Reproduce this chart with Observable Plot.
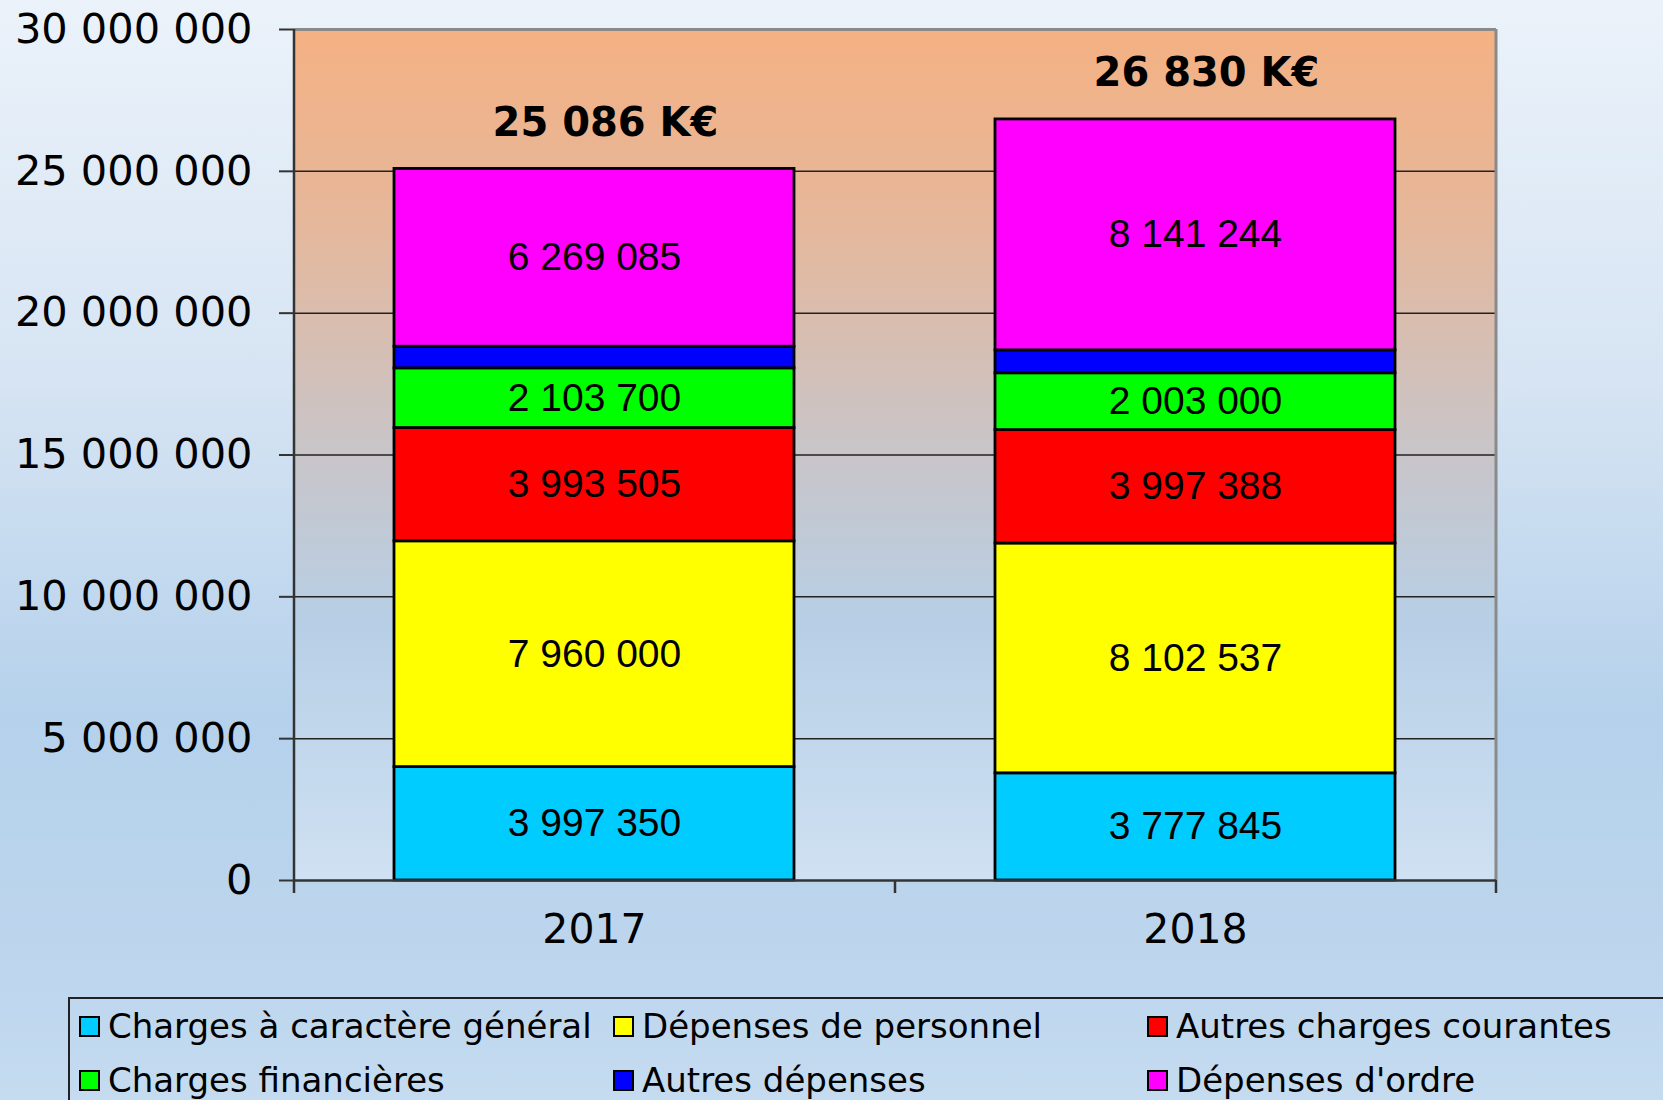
<!DOCTYPE html>
<html>
<head>
<meta charset="utf-8">
<script src="https://cdn.jsdelivr.net/npm/d3@7"></script>
<script src="https://cdn.jsdelivr.net/npm/@observablehq/plot@0.6"></script>
<style>
  html, body { margin: 0; padding: 0; }
  body {
    width: 1663px; height: 1100px; overflow: hidden; position: relative;
    background: linear-gradient(to bottom, #ebf2fa 0%, #d6e4f3 35%, #b5d1eb 65%, #bcd5ed 85%, #c4dbf0 100%);
    font-family: "DejaVu Sans", sans-serif;
  }
  #chart { position: absolute; left: 0; top: 0; }
  #legend {
    position: absolute; left: 68px; top: 997px; width: 1620px; height: 130px;
    border: 2px solid #222; box-sizing: border-box;
    display: grid; grid-template-columns: 534px 534px 534px; grid-auto-rows: 54px;
    padding-left: 9px; padding-top: 0px;
  }
  .item { display: flex; align-items: center; font-size: 34px; color: #000; white-space: nowrap; }
  .sw { width: 17px; height: 17px; border: 2px solid #000; margin-right: 8px; flex: none; }
</style>
</head>
<body>
<div id="chart"></div>
<div id="legend"></div>
<script>
const years = ["2017", "2018"];
const categories = ["Charges à caractère général", "Dépenses de personnel", "Autres charges courantes", "Charges financières", "Autres dépenses", "Dépenses d'ordre"];
const values2017 = [3997350, 7960000, 3993505, 2103700, 762360, 6269085];
const values2018 = [3777845, 8102537, 3997388, 2003000, 807986, 8141244];
const showLabel = [true, true, true, true, false, true];
const totalsK = [25086, 26830];
const colors = ["#00ccff", "#ffff00", "#ff0000", "#00ff00", "#0000ff", "#ff00ff"];
const yTicks = [0, 5000000, 10000000, 15000000, 20000000, 25000000, 30000000];

const fmt = v => String(v).replace(/\B(?=(\d{3})+(?!\d))/g, " ");

const seriesByYear = [values2017, values2018];
const rows = [];
years.forEach((yr, i) => categories.forEach((c, j) => rows.push({year: yr, category: c, value: seriesByYear[i][j], label: showLabel[j]})));
const totals = years.map((yr, i) => ({year: yr, total: totalsK[i] * 1000, text: fmt(totalsK[i]) + " K€"}));

const W = 1663, H = 960, mL = 294, mR = 167, mT = 29, mB = 80;
const half = (W - mL - mR) / 4;

const svg = Plot.plot({
  width: W, height: H,
  marginLeft: mL, marginRight: mR, marginTop: mT, marginBottom: mB,
  style: {background: "transparent", fontFamily: "DejaVu Sans", color: "#000"},
  x: {domain: years, paddingInner: 0.334, paddingOuter: 0.167, axis: null},
  y: {domain: [0, 30000000], axis: null},
  color: {domain: categories, range: colors},
  marks: [
    Plot.frame({fill: "url(#plotbg)"}),
    Plot.ruleY(yTicks.filter(t => t > 0 && t < 30000000), {stroke: "#222", strokeWidth: 1.5}),
    Plot.ruleY([30000000], {stroke: "#8a8a8a", strokeWidth: 3}),
    Plot.ruleX(["2018"], {dx: half, y1: 0, y2: 30000000, stroke: "#8a8a8a", strokeWidth: 3}),
    Plot.barY(rows, Plot.stackY({x: "year", y: "value", fill: "category", stroke: "#000", strokeWidth: 2.8})),
    Plot.text(rows, Plot.stackY({x: "year", y: "value", z: "category", text: d => d.label ? fmt(d.value) : null, fontSize: 39, fontFamily: "Liberation Sans", fill: "#000"})),
    Plot.text(totals, {x: "year", y: "total", text: "text", dy: -46, dx: 11, fontSize: 40, fontWeight: "bold", fontFamily: "DejaVu Sans", fill: "#000"}),
    Plot.ruleX(["2017"], {dx: -half, y1: 0, y2: 30000000, stroke: "#333", strokeWidth: 2.5}),
    Plot.ruleY([0], {stroke: "#333", strokeWidth: 2.5}),
    Plot.ruleX(["2017"], {dx: -half, y1: 0, y2: 0, insetTop: 13, stroke: "#333", strokeWidth: 2.5}),
    Plot.ruleX(["2017"], {dx: half, y1: 0, y2: 0, insetTop: 13, stroke: "#333", strokeWidth: 2.5}),
    Plot.ruleX(["2018"], {dx: half, y1: 0, y2: 0, insetTop: 13, stroke: "#333", strokeWidth: 2.5}),
    Plot.axisY({ticks: yTicks, tickSize: 15, tickPadding: 27, fontSize: 41.5, tickFormat: fmt, strokeWidth: 2, stroke: "#333", fill: "#000", label: null}),
    Plot.axisX({tickSize: 0, tickPadding: 33, fontSize: 41, fill: "#000", label: null})
  ]
});

const defs = d3.select(svg).insert("defs", ":first-child");
const g = defs.append("linearGradient").attr("id", "plotbg").attr("x1", 0).attr("y1", 0).attr("x2", 0).attr("y2", 1);
[["0%", "#f4b183"], ["22%", "#e6b79a"], ["48%", "#cac4c6"], ["70%", "#b7cfe6"], ["100%", "#cfe1f2"]]
  .forEach(([o, c]) => g.append("stop").attr("offset", o).attr("stop-color", c));

document.getElementById("chart").appendChild(svg);

const legend = d3.select("#legend");
categories.forEach((c, i) => {
  const it = legend.append("div").attr("class", "item");
  it.append("div").attr("class", "sw").style("background", colors[i]);
  it.append("span").text(c);
});
</script>
</body>
</html>
